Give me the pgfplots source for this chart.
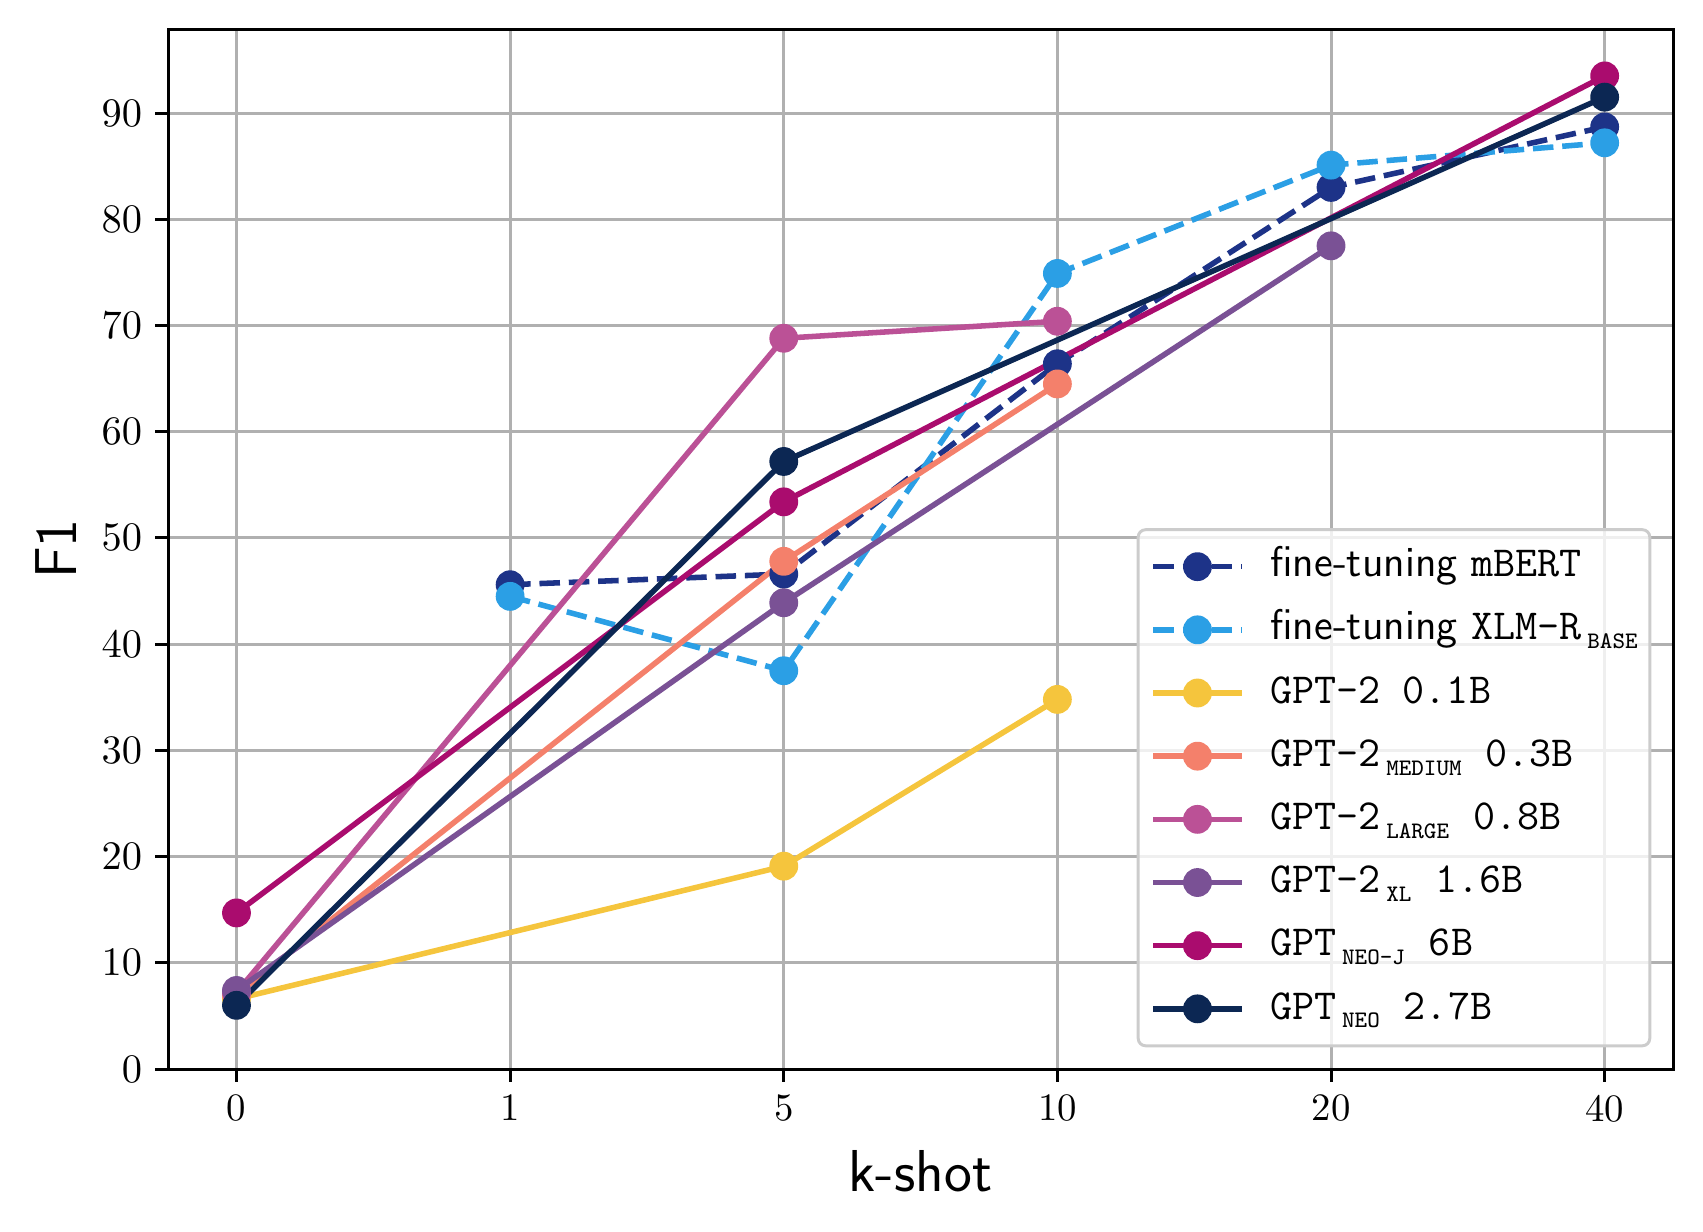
\documentclass[border=0pt]{standalone}
\usepackage{pgfplots}
\pgfplotsset{compat=1.18}
\definecolor{cMBERT}{HTML}{1D3388}
\definecolor{cXLMR}{HTML}{2B9FE5}
\definecolor{cGPTs}{HTML}{F5C53D}
\definecolor{cGPTm}{HTML}{F4806B}
\definecolor{cGPTl}{HTML}{BB5196}
\definecolor{cGPTxl}{HTML}{7A5195}
\definecolor{cNEOJ}{HTML}{AA0C6E}
\definecolor{cNEO}{HTML}{0C2753}
\definecolor{gridgray}{HTML}{B0B0B0}
\newcommand{\sub}[1]{\hspace{1.5pt}\raisebox{-2.4pt}{\fontsize{6.4}{6.4}\selectfont\ttfamily #1}}
\begin{document}
\begin{tikzpicture}
\path[use as bounding box] (-45.5pt,-44.1pt) rectangle (415.5pt,289.4pt);
\begin{axis}[
  at={(0pt,0pt)}, anchor=south west,
  scale only axis, width=407.4pt, height=281.5pt,
  xmin=-0.25, xmax=5.25, ymin=0, ymax=97.9,
  xtick={0,1,2,3,4,5}, xticklabels={0,1,5,10,20,40},
  ytick={0,10,...,90},
  xtick pos=left, ytick pos=left, tick align=outside,
  major tick length=3.5pt,
  every tick/.style={black, line width=0.8pt},
  axis line style={line width=0.8pt},
  grid=major,
  major grid style={gridgray, line width=0.8pt},
  tick label style={font=\fontsize{10.5}{12}\selectfont},
  xlabel={\sffamily k-shot}, ylabel={\sffamily F1},
  label style={font=\fontsize{16}{18}\selectfont},
  xlabel style={yshift=-0.8pt},
  ylabel style={yshift=0pt},
  every axis plot/.append style={line width=1.5pt, mark=*, mark size=3.65pt, mark options={solid, line width=0.5pt}},
  legend image code/.code={\draw[mark repeat=2,mark phase=2, opacity=1] plot coordinates {(0pt,0pt) (12pt,0pt) (24pt,0pt)};},
  legend cell align=left,
  legend style={at={(rel axis cs:1,0)}, anchor=south east, xshift=-5.9pt, yshift=5.9pt,
    draw=black!20, line width=0.8pt, rounded corners=2pt,
    fill=white, fill opacity=0.8, draw opacity=1, text opacity=1,
    font=\fontsize{11.6}{13.5}\selectfont,
    inner xsep=3.3pt, inner ysep=3.75pt,
    row sep=4.6pt, column sep=7pt,
    nodes={inner sep=0pt, text height=9pt, text depth=3.5pt}},
]
\addplot[cMBERT, dash pattern=on 5.55pt off 2.4pt] coordinates {(1,45.6)(2,46.6)(3,66.4)(4,83.0)(5,88.7)};
\addlegendentry{\textsf{fine-tuning} \texttt{mBERT}}
\addplot[cXLMR, dash pattern=on 5.55pt off 2.4pt] coordinates {(1,44.5)(2,37.5)(3,74.9)(4,85.1)(5,87.2)};
\addlegendentry{\textsf{fine-tuning} \texttt{XLM-R}\sub{BASE}}
\addplot[cGPTs] coordinates {(0,6.6)(2,19.1)(3,34.8)};
\addlegendentry{\texttt{GPT-2 0.1B}}
\addplot[cGPTm] coordinates {(0,7.0)(2,47.8)(3,64.5)};
\addlegendentry{\texttt{GPT-2}\sub{MEDIUM}\hspace{6.5pt}\texttt{0.3B}}
\addplot[cGPTl] coordinates {(0,7.2)(2,68.8)(3,70.4)};
\addlegendentry{\texttt{GPT-2}\sub{LARGE}\hspace{6.5pt}\texttt{0.8B}}
\addplot[cGPTxl] coordinates {(0,7.4)(2,43.9)(4,77.5)};
\addlegendentry{\texttt{GPT-2}\sub{XL}\hspace{6.5pt}\texttt{1.6B}}
\addplot[cNEOJ] coordinates {(0,14.7)(2,53.4)(5,93.5)};
\addlegendentry{\texttt{GPT}\sub{NEO-J}\hspace{6.5pt}\texttt{6B}}
\addplot[cNEO] coordinates {(0,6.0)(2,57.2)(5,91.5)};
\addlegendentry{\texttt{GPT}\sub{NEO}\hspace{6.5pt}\texttt{2.7B}}
\end{axis}
\end{tikzpicture}
\end{document}
